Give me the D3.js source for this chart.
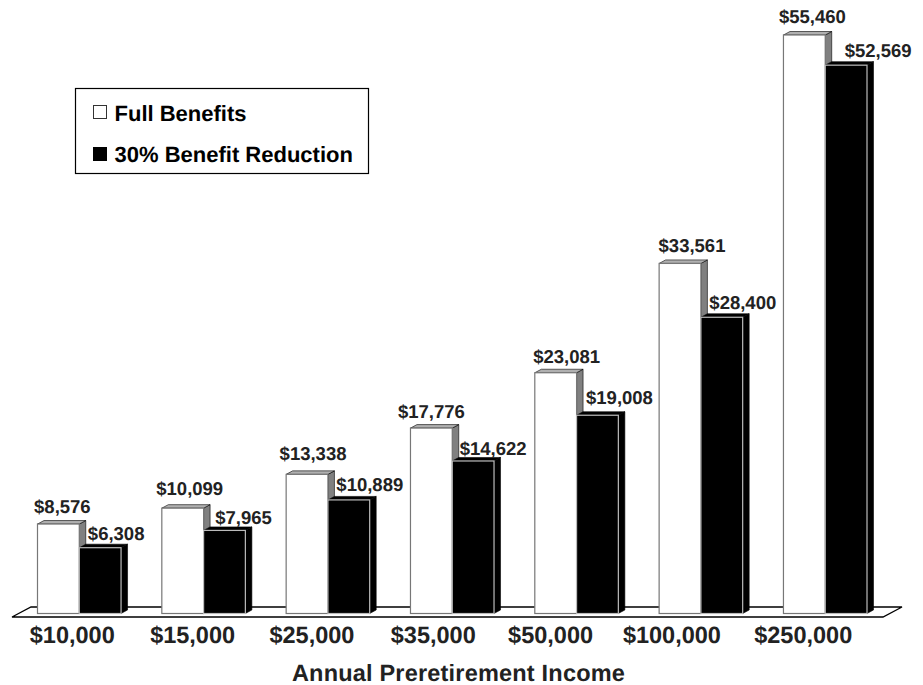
<!DOCTYPE html>
<html>
<head>
<meta charset="utf-8">
<script src="https://cdn.jsdelivr.net/npm/d3@7"></script>
<style>
  body { margin: 0; background: #fff; }
  svg { display: block; }
  text { font-family: "Liberation Sans", Arial, sans-serif; font-weight: bold; text-rendering: geometricPrecision; }
</style>
</head>
<body>
<svg id="chart" width="923" height="685"></svg>
<script>
var incomes = ['$10,000', '$15,000', '$25,000', '$35,000', '$50,000', '$100,000', '$250,000'];
var fullBenefits = [8576, 10099, 13338, 17776, 23081, 33561, 55460];
var reducedBenefits = [6308, 7965, 10889, 14622, 19008, 28400, 52569];
var seriesNames = ['Full Benefits', '30% Benefit Reduction'];

// hand placement of the labels, the original chart nudges each one
var fullLabelDx = [4, 7, 6, 0, 11, 12, 8];
var fullLabelDy = [1, -1, -2, 2, 2, 1, 0];
var reducedLabelDx = [16, 19, 21, 20, 22, 21, 32];
var reducedLabelDy = [0, 2, -1, 2, -3, 0, 0];
var tickLabelDx = [-7, -11, -16, -19, -26, -29, -22];

var depthX = 6.5, depthY = 3.5;

var svg = d3.select('#chart');

var x0 = d3.scaleBand()
  .domain(incomes)
  .range([37.5, 867])
  .paddingInner(0.328);
var x1 = d3.scaleBand()
  .domain(seriesNames)
  .range([0, x0.bandwidth()]);
var y = d3.scaleLinear()
  .domain([0, 55460])
  .range([613.5, 35]);

// floor
svg.append('path')
  .attr('d', d3.line()([[12, 617], [31, 607], [902, 607], [883, 617]]) + 'Z')
  .attr('fill', '#fff')
  .attr('stroke', '#000')
  .attr('stroke-width', 1.3);

function drawBars (values, name, faces) {
  var g = svg.append('g');
  var bars = g.selectAll('g').data(values).enter().append('g')
    .attr('transform', function (d, i) {
      return 'translate(' + (x0(incomes[i]) + x1(name)) + ',' + y(d) + ')';
    });
  var w = x1.bandwidth();

  bars.append('path')
    .attr('d', function (d) {
      var h = y(0) - y(d);
      return d3.line()([[w, 0], [w + depthX, -depthY], [w + depthX, h - depthY], [w, h]]) + 'Z';
    })
    .attr('fill', faces.side)
    .attr('stroke', '#000')
    .attr('stroke-width', 0.6);
  bars.append('path')
    .attr('d', d3.line()([[0, 0], [depthX, -depthY], [w + depthX, -depthY], [w, 0]]) + 'Z')
    .attr('fill', faces.top)
    .attr('stroke', '#000')
    .attr('stroke-width', 0.6);
  bars.append('rect')
    .attr('width', w)
    .attr('height', function (d) { return y(0) - y(d); })
    .attr('fill', faces.front)
    .attr('stroke', faces.outline)
    .attr('stroke-width', 1.2);
}

drawBars(fullBenefits, seriesNames[0], { front: '#fff', side: '#808080', top: '#b0b0b0', outline: '#777' });
drawBars(reducedBenefits, seriesNames[1], { front: '#000', side: '#000', top: '#000', outline: '#bbb' });

// value labels
function drawValues (values, name, dx, dy, lift) {
  svg.append('g').selectAll('text').data(values).enter().append('text')
    .attr('x', function (d, i) {
      return x0(incomes[i]) + x1(name) + x1.bandwidth() / 2 + dx[i];
    })
    .attr('y', function (d, i) { return y(d) - lift + dy[i]; })
    .attr('text-anchor', 'middle')
    .attr('font-size', 18.5)
    .attr('fill', '#222')
    .text(d3.format('$,'));
}
drawValues(fullBenefits, seriesNames[0], fullLabelDx, fullLabelDy, 12);
drawValues(reducedBenefits, seriesNames[1], reducedLabelDx, reducedLabelDy, 8);

// x axis labels
var axis = svg.append('g')
  .attr('transform', 'translate(0,619)')
  .call(d3.axisBottom(x0).tickSize(0).tickPadding(7));
axis.select('.domain').remove();
axis.selectAll('text')
  .attr('dx', function (d, i) { return tickLabelDx[i]; })
  .attr('font-size', 23.5)
  .attr('font-family', null)
  .attr('fill', '#222');

svg.append('text')
  .attr('x', 458.5)
  .attr('y', 681)
  .attr('text-anchor', 'middle')
  .attr('font-size', 23.5)
  .attr('letter-spacing', 0.2)
  .attr('fill', '#222')
  .text('Annual Preretirement Income');

// legend
var legend = svg.append('g').attr('transform', 'translate(75.5,88.5)');
legend.append('rect')
  .attr('width', 293)
  .attr('height', 85)
  .attr('fill', '#fff')
  .attr('stroke', '#000')
  .attr('stroke-width', 1.2);
var rows = legend.selectAll('g.row').data(seriesNames).enter().append('g')
  .attr('class', 'row')
  .attr('transform', function (d, i) { return 'translate(18,' + (17 + i * 41) + ')'; });
rows.append('rect')
  .attr('y', function (d, i) { return i; })
  .attr('width', 13)
  .attr('height', 13)
  .attr('fill', function (d, i) { return i ? '#000' : '#fff'; })
  .attr('stroke', function (d, i) { return i ? '#000' : '#333'; });
rows.append('text')
  .attr('x', 21)
  .attr('y', 15)
  .attr('font-size', 22)
  .attr('fill', '#000')
  .text(function (d) { return d; });
</script>
</body>
</html>
